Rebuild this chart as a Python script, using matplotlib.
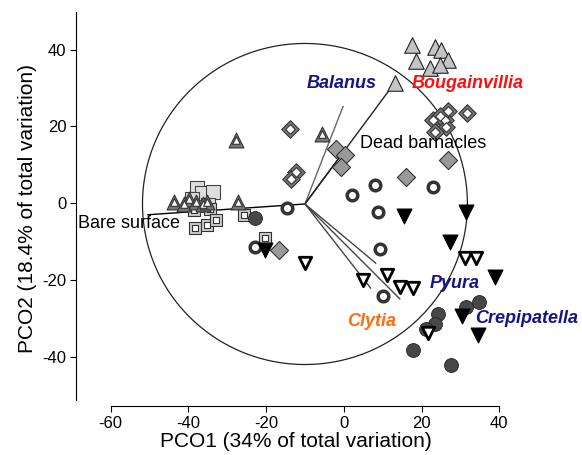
"""
PCO ordination with vector overlay (species correlations)
"""
import numpy as np
import matplotlib
matplotlib.use('Agg')
import matplotlib.pyplot as plt

plt.rcParams['font.family'] = ['Liberation Sans', 'DejaVu Sans']
plt.rcParams['axes.unicode_minus'] = False

# sample scores (PCO1, PCO2) for each group
tri_gray_x = [17.6, 23.4, 25.1, 18.7, 26.8, 22.1, 24.7, 13.1]
tri_gray_y = [41.2, 40.8, 39.9, 37.1, 37.3, 35.2, 36.0, 31.3]

tri_dbl_x = [-43.7, -41.0, -39.8, -38.0, -36.3, -35.2, -27.2, -27.8, -5.7]
tri_dbl_y = [0.3, -0.2, 1.2, 0.2, -0.3, 0.3, 0.4, 16.5, 18.0]

sq_gray_x = [-37.8, -36.6, -33.6, -39.0, -35.0]
sq_gray_y = [3.9, 2.6, 2.9, 1.0, -0.5]

sq_dbl_x = [-38.5, -34.5, -38.3, -35.1, -32.9, -25.7, -20.3]
sq_dbl_y = [-1.8, -1.5, -6.5, -5.7, -4.3, -3.0, -9.1]

dia_dbl_x = [-13.9, -12.3, -13.6, 26.8, 31.8, 23.0, 26.0, 26.4, 23.4, 24.7]
dia_dbl_y = [19.3, 8.2, 6.3, 23.9, 23.6, 21.7, 21.7, 19.9, 18.6, 22.8]

dia_gray_x = [-1.9, 0.3, -0.8, 16.1, 26.8, -16.7]
dia_gray_y = [14.1, 12.6, 9.4, 6.9, 11.3, -12.3]

ring_x = [-14.7, 2.0, 8.0, 23.0, 8.8, 9.3, -22.9, 10.1]
ring_y = [-1.3, 2.2, 4.8, 4.3, -2.2, -11.9, -11.5, -24.1]

dot_x = [-22.9, 34.8, 31.4, 24.2, 23.4, 21.1, 17.8, 27.5]
dot_y = [-3.9, -25.6, -26.9, -28.8, -31.4, -32.7, -38.2, -42.1]

tri_dn_x = [15.4, 31.4, 27.2, -20.3, 38.8, 30.3, 34.5]
tri_dn_y = [-3.3, -2.4, -10.0, -12.2, -19.1, -29.3, -34.3]

tri_open_x = [-10.0, 5.0, 11.0, 14.4, 17.7, 31.1, 34.1, 21.7]
tri_open_y = [-15.6, -20.0, -18.7, -21.7, -22.1, -14.3, -14.3, -33.9]

# vector overlay
origin = (-10.0, -0.2)
radius = 41.8
vec_names = ['Bare surface', 'Balanus', 'Bougainvillia', 'Dead barnacles',
             'Clytia', 'Pyura', 'Crepipatella']
vec_x = [-50.4, -0.2, 12.9, 0.3, 6.9, 8.2, 14.4]
vec_y = [-3.0, 25.2, 31.1, 13.9, -22.1, -15.6, -24.9]
vec_col = ['black', '#666666', '#222222', '#222222', '#444444', '#444444', '#444444']

# label positions
lab_x = [-55.2, -0.5, 31.9, 20.3, 7.2, 28.5, 47.0]
lab_y = [-5.4, 31.1, 31.1, 15.5, -30.9, -20.8, -29.9]
lab_col = ['black', '#15158a', '#ff1010', 'black', '#ff6a13', '#15158a', '#15158a']

fig = plt.figure(figsize=(5.82, 4.55), dpi=100)
ax = fig.add_axes([0.1306, 0.1077, 0.754, 0.866])
ax.set_xlim(-68.9, 44.0)
ax.set_ylim(-52.8, 49.8)

# circle
t = np.linspace(0, 2 * np.pi, 400)
ax.plot(origin[0] + radius * np.cos(t), origin[1] + radius * np.sin(t),
        color='#222222', lw=0.9, zorder=1)

for vx, vy, c in zip(vec_x, vec_y, vec_col):
    ax.plot([origin[0], vx], [origin[1], vy], color=c, lw=1.0, zorder=2)

edge = '#333333'
ax.scatter(sq_gray_x, sq_gray_y, s=95, marker='s', facecolor='#dddddd',
           edgecolor='#444444', lw=0.8, zorder=3)
ax.scatter(sq_dbl_x, sq_dbl_y, s=85, marker='s', facecolor='#cccccc',
           edgecolor=edge, lw=0.8, zorder=3)
ax.scatter(sq_dbl_x, sq_dbl_y, s=25, marker='s', facecolor='white',
           edgecolor=edge, lw=0.8, zorder=3)
ax.scatter(tri_dbl_x, tri_dbl_y, s=115, marker='^', facecolor='#777777',
           edgecolor=edge, lw=0.8, zorder=4)
ax.scatter(tri_dbl_x, tri_dbl_y, s=30, marker='^', facecolor='white',
           edgecolor=edge, lw=0.8, zorder=4)
ax.scatter(tri_gray_x, tri_gray_y, s=125, marker='^', facecolor='#c4c4c4',
           edgecolor='#222222', lw=0.8, zorder=4)
ax.scatter(dia_dbl_x, dia_dbl_y, s=80, marker='D', facecolor='#777777',
           edgecolor=edge, lw=0.8, zorder=4)
ax.scatter(dia_dbl_x, dia_dbl_y, s=24, marker='D', facecolor='white',
           edgecolor=edge, lw=0.8, zorder=4)
ax.scatter(dia_gray_x, dia_gray_y, s=85, marker='D', facecolor='#999999',
           edgecolor=edge, lw=0.8, zorder=4)
ax.scatter(ring_x, ring_y, s=58, marker='o', facecolor='white',
           edgecolor='#333333', lw=2.5, zorder=4)
ax.scatter(dot_x, dot_y, s=100, marker='o', facecolor='#474747',
           edgecolor='#222222', lw=0.6, zorder=4)
ax.scatter(tri_dn_x, tri_dn_y, s=115, marker='v', facecolor='black',
           edgecolor='black', lw=0.8, zorder=5)
ax.scatter(tri_open_x, tri_open_y, s=80, marker='v', facecolor='white',
           edgecolor='black', lw=2.0, zorder=5)

# vector labels
for name, lx, ly, c in zip(vec_names, lab_x, lab_y, lab_col):
    if name in ('Bare surface', 'Dead barnacles'):
        ax.text(lx, ly, name, color=c, fontsize=13, ha='center', va='center', zorder=6)
    else:
        ax.text(lx, ly, name, color=c, fontsize=13, ha='center', va='center',
                fontweight='bold', fontstyle='italic', zorder=6)

# PRIMER style axes
ax.spines['top'].set_visible(False)
ax.spines['right'].set_visible(False)
ax.spines['left'].set_bounds(-51.2, 49.8)
ax.spines['bottom'].set_bounds(-60, 40)
ax.set_xticks([-60, -40, -20, 0, 20, 40])
ax.set_yticks([-40, -20, 0, 20, 40])
ax.tick_params(direction='out', length=4, width=0.8, labelsize=12, pad=3)
ax.set_xlabel('PCO1 (34% of total variation)', fontsize=15, labelpad=1)
ax.set_ylabel('PCO2 (18.4% of total variation)', fontsize=15, labelpad=4)

fig.savefig('out.png', dpi=100)
